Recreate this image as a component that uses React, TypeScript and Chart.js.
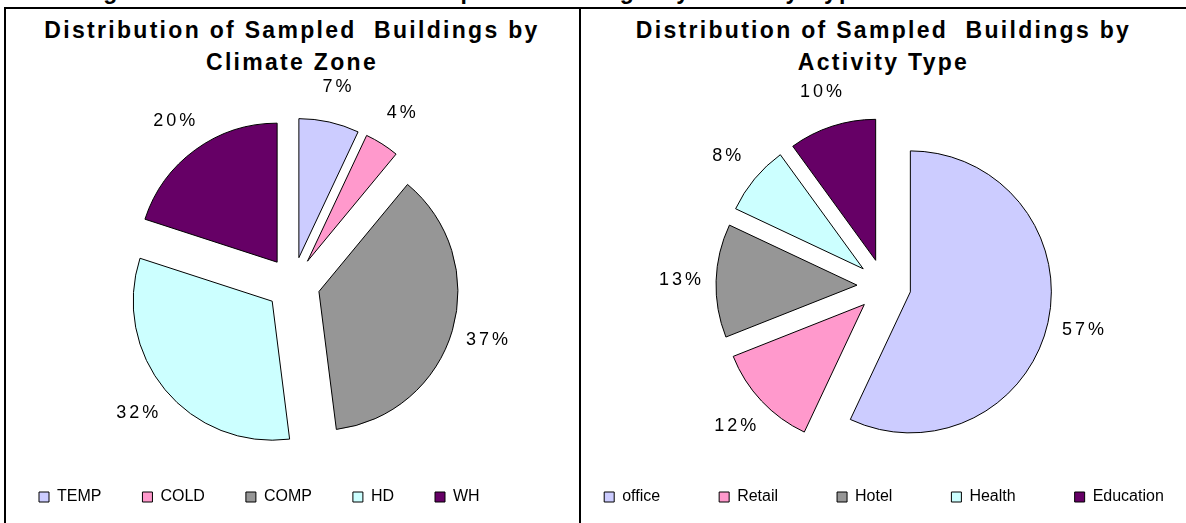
import React, { useEffect, useRef } from 'react';
import { Chart, registerables } from 'chart.js';

Chart.register(...registerables);

// ---------- data ----------
const climateZones = ['TEMP', 'COLD', 'COMP', 'HD', 'WH'];
const climateShares = [7, 4, 37, 32, 20];

const activityTypes = ['office', 'Retail', 'Hotel', 'Health', 'Education'];
const activityShares = [57, 12, 13, 8, 10];

const sliceColors = ['#CCCCFF', '#FF99CC', '#969696', '#CCFFFF', '#660066'];

const pageCaption = 'Figure 1: Distribution of Sampled Buildings by Activity Type and Climate Zone';
const climateTitle = ['Distribution of Sampled  Buildings by', 'Climate Zone'];
const activityTitle = ['Distribution of Sampled  Buildings by', 'Activity Type'];

const FONT = '"Liberation Sans", Arial, sans-serif';

// Moves every slice out from the centre along its mid angle (exploded pie).
const explodePlugin = {
  id: 'explode',
  afterDatasetsUpdate(chart: any, _args: any, opts: any) {
    const d = (opts && opts.distance) || 0;
    chart.getDatasetMeta(0).data.forEach((arc: any) => {
      const mid = (arc.startAngle + arc.endAngle) / 2;
      arc.x += Math.cos(mid) * d;
      arc.y += Math.sin(mid) * d;
    });
  },
};

// Percentage labels outside each slice.
const pctLabelPlugin = {
  id: 'pctLabels',
  afterDatasetsDraw(chart: any, _args: any, opts: any) {
    const ctx = chart.ctx;
    const meta = chart.getDatasetMeta(0);
    const values = chart.data.datasets[0].data;
    ctx.save();
    ctx.font = opts.font;
    ctx.fillStyle = '#000';
    ctx.textAlign = 'center';
    ctx.textBaseline = 'middle';
    if ('letterSpacing' in ctx) ctx.letterSpacing = opts.letterSpacing + 'px';
    meta.data.forEach((arc: any, i: number) => {
      const mid = (arc.startAngle + arc.endAngle) / 2;
      const r = arc.outerRadius + opts.gap;
      ctx.fillText(
        values[i] + '%',
        arc.x + Math.cos(mid) * r + opts.letterSpacing / 2,
        arc.y + Math.sin(mid) * r
      );
    });
    ctx.restore();
  },
};

type PieProps = {
  labels: string[];
  values: number[];
  left: number;
  width: number;
  centerY: number;
  radius: number;
  legendPadding: number;
  legendAlign: 'start' | 'center' | 'end';
};

const CANVAS_TOP = 9;
const CANVAS_H = 514;
const LEGEND_BOTTOM_PAD = 8;

function ExplodedPie(props: PieProps) {
  const ref = useRef<HTMLCanvasElement>(null);
  useEffect(() => {
    if (!ref.current) return;
    const legendHeight = 16 + props.legendPadding + 10;
    const areaBottom = CANVAS_H - LEGEND_BOTTOM_PAD - legendHeight; // canvas coords
    const cy = props.centerY - CANVAS_TOP;
    const padTop = Math.max(0, 2 * cy - areaBottom);
    const chart = new Chart(ref.current, {
      type: 'pie',
      data: {
        labels: props.labels,
        datasets: [
          {
            data: props.values,
            backgroundColor: sliceColors,
            borderColor: '#000000',
            borderWidth: 1,
            radius: props.radius,
          } as any,
        ],
      },
      options: {
        responsive: false,
        animation: false,
        events: [],
        layout: { padding: { top: padTop, bottom: LEGEND_BOTTOM_PAD, left: 0, right: 0 } },
        plugins: {
          legend: {
            position: 'bottom',
            align: props.legendAlign,
            labels: {
              boxWidth: 10,
              boxHeight: 10,
              padding: props.legendPadding,
              color: '#000000',
              font: { family: FONT, size: 16 },
            },
          },
          title: { display: false },
          tooltip: { enabled: false },
          explode: { distance: 27 },
          pctLabels: { font: '18px ' + FONT, gap: 36, letterSpacing: 3 },
        } as any,
      },
      plugins: [explodePlugin, pctLabelPlugin],
    });
    return () => chart.destroy();
  }, []);
  return (
    <canvas
      ref={ref}
      width={props.width}
      height={CANVAS_H}
      style={{ position: 'absolute', left: props.left, top: CANVAS_TOP, width: props.width, height: CANVAS_H }}
    />
  );
}

const titleStyle: React.CSSProperties = {
  position: 'absolute',
  top: 14,
  textAlign: 'center',
  fontFamily: FONT,
  fontWeight: 'bold',
  fontSize: 23,
  letterSpacing: 2.3,
  lineHeight: '32px',
  whiteSpace: 'pre',
  color: '#000',
};

export default function App() {
  return (
    <div
      style={{
        position: 'absolute',
        left: 0,
        top: 0,
        width: 1186,
        height: 523,
        overflow: 'hidden',
        background: '#fff',
      }}
    >
      <div
        style={{
          position: 'absolute',
          left: 0,
          width: 1186,
          top: -22,
          textAlign: 'center',
          fontFamily: FONT,
          fontWeight: 'bold',
          fontSize: 23,
          letterSpacing: 2.3,
          lineHeight: '26px',
          whiteSpace: 'pre',
          color: '#000',
        }}
      >
        {pageCaption}
      </div>
      {/* frame */}
      <div style={{ position: 'absolute', left: 4, top: 7, width: 1182, height: 2, background: '#000' }} />
      <div style={{ position: 'absolute', left: 4, top: 7, width: 2, height: 516, background: '#000' }} />
      <div style={{ position: 'absolute', left: 579, top: 7, width: 2, height: 516, background: '#000' }} />

      <div style={{ ...titleStyle, left: 5, width: 574 }}>{climateTitle.join('\n')}</div>
      <div style={{ ...titleStyle, left: 581, width: 605 }}>{activityTitle.join('\n')}</div>

      <ExplodedPie
        labels={climateZones}
        values={climateShares}
        left={-2}
        width={590}
        centerY={284}
        radius={139}
        legendPadding={41}
        legendAlign="start"
      />
      <ExplodedPie
        labels={activityTypes}
        values={activityShares}
        left={524}
        width={720}
        centerY={286}
        radius={141}
        legendPadding={59}
        legendAlign="center"
      />
    </div>
  );
}
